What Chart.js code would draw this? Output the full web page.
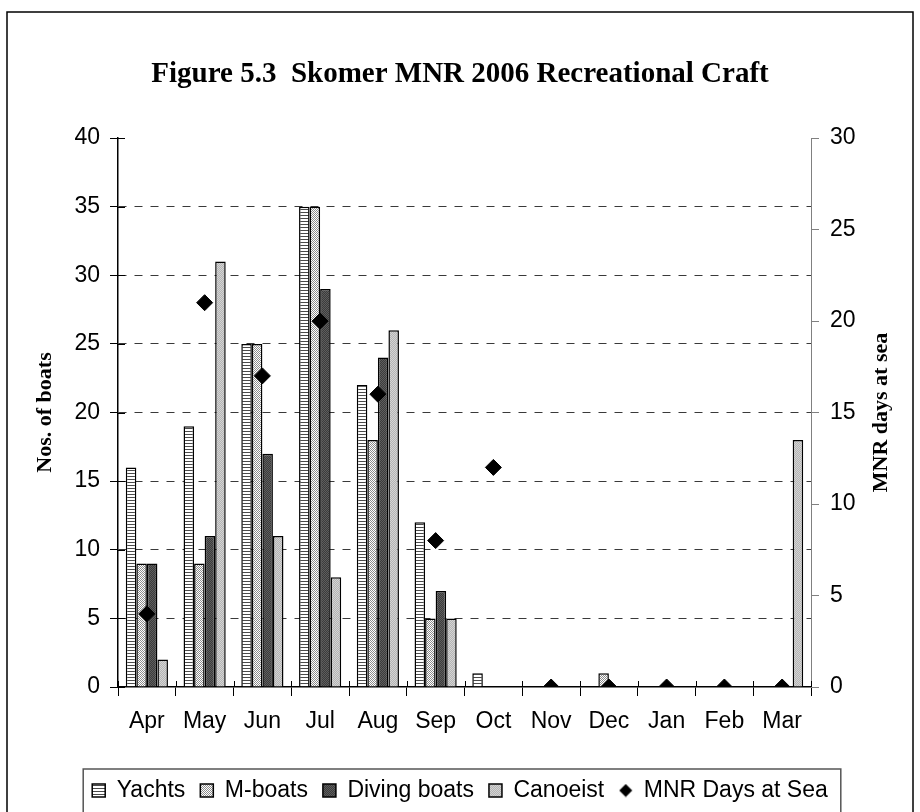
<!DOCTYPE html>
<html>
<head>
<meta charset="utf-8">
<script src="https://cdn.jsdelivr.net/npm/chart.js@4.4.0/dist/chart.umd.min.js"></script>
<style>
	html, body { margin: 0; padding: 0; background: #fff; }
</style>
</head>
<body>
<canvas id="chart_craft" width="920" height="812"></canvas>
<script>
// values
var months = ['Apr', 'May', 'Jun', 'Jul', 'Aug', 'Sep', 'Oct', 'Nov', 'Dec', 'Jan', 'Feb', 'Mar'];
var yachts = [16, 19, 25, 35, 22, 12, 1, 0, 0, 0, 0, 0];
var mBoats = [9, 9, 25, 35, 18, 5, 0, 0, 1, 0, 0, 0];
var divingBoats = [9, 11, 17, 29, 24, 7, 0, 0, 0, 0, 0, 0];
var canoeist = [2, 31, 11, 8, 26, 5, 0, 0, 0, 0, 0, 18];
var daysAtSea = [4, 21, 17, 20, 16, 8, 12, 0, 0, 0, 0, 0];

var tickFont = { family: '"Liberation Sans", Arial, sans-serif', size: 23 };

// little fill patterns like the old Excel ones
function makePattern(w, h, paint) {
	var c = document.createElement('canvas');
	c.width = w;
	c.height = h;
	var g = c.getContext('2d');
	paint(g);
	return g.createPattern(c, 'repeat');
}

function checker(a, b) {
	return makePattern(2, 2, function (g) {
		g.fillStyle = a;
		g.fillRect(0, 0, 2, 2);
		g.fillStyle = b;
		g.fillRect(0, 0, 1, 1);
		g.fillRect(1, 1, 1, 1);
	});
}

var fillYachts = makePattern(1, 3, function (g) {
	g.fillStyle = '#fff';
	g.fillRect(0, 0, 1, 3);
	g.fillStyle = '#4a4a4a';
	g.fillRect(0, 2, 1, 1);
});
var fillMBoats = checker('#ffffff', '#8c8c8c');
var fillDiving = checker('#3c3c3c', '#5e5e5e');
var fillCanoe = checker('#b4b4b4', '#d4d4d4');

// smaller diamond for the legend key
var legendDiamond = document.createElement('canvas');
legendDiamond.width = 14;
legendDiamond.height = 14;
(function () {
	var g = legendDiamond.getContext('2d');
	g.fillStyle = '#000';
	g.beginPath();
	g.moveTo(7, 0.5);
	g.lineTo(13.5, 7);
	g.lineTo(7, 13.5);
	g.lineTo(0.5, 7);
	g.closePath();
	g.fill();
})();

var craftFrame = {
	id: 'craftFrame',
	beforeDraw: function (chart) {
		var ctx = chart.ctx;
		ctx.save();
		ctx.fillStyle = '#fff';
		ctx.fillRect(0, 0, chart.width, chart.height);
		ctx.strokeStyle = '#000';
		ctx.lineWidth = 1.5;
		ctx.strokeRect(7, 12, 906, 830);
		ctx.restore();
	},
	afterDraw: function (chart) {
		var ctx = chart.ctx;
		var area = chart.chartArea;
		var xs = chart.scales.x;
		var ys = chart.scales.y;
		var mid = (area.top + area.bottom) / 2;
		ctx.save();

		// inner halves of the cross tick marks
		ctx.strokeStyle = '#000';
		ctx.lineWidth = 1;
		ctx.beginPath();
		ys.ticks.forEach(function (t) {
			var py = Math.round(ys.getPixelForValue(t.value)) + 0.5;
			ctx.moveTo(ys.right, py);
			ctx.lineTo(ys.right + 7, py);
		});
		var step = (xs.right - xs.left) / months.length;
		for (var i = 0; i <= months.length; i++) {
			var px = Math.round(xs.left + i * step) + 0.5;
			ctx.moveTo(px, xs.top);
			ctx.lineTo(px, xs.top - 6);
		}
		ctx.stroke();

		// axis titles, both reading upwards
		ctx.fillStyle = '#000';
		ctx.font = 'bold 22px "Liberation Serif", "Times New Roman", serif';
		ctx.textAlign = 'center';
		ctx.textBaseline = 'middle';
		ctx.save();
		ctx.translate(45, mid);
		ctx.rotate(-Math.PI / 2);
		ctx.fillText('Nos. of boats', 0, 0);
		ctx.restore();
		ctx.save();
		ctx.translate(881, mid);
		ctx.rotate(-Math.PI / 2);
		ctx.fillText('MNR days at sea', 0, 0);
		ctx.restore();

		// box round the legend
		var boxes = chart.legend.legendHitBoxes;
		if (boxes && boxes.length) {
			var first = boxes[0];
			var last = boxes[boxes.length - 1];
			var lx = first.left - 9;
			var rx = last.left + last.width + 13;
			ctx.strokeStyle = '#555';
			ctx.lineWidth = 1.5;
			ctx.strokeRect(lx, 769, rx - lx, 80);
		}
		ctx.restore();
	}
};

var chart_craft = new Chart(
	document.getElementById('chart_craft'),
	{
		type: 'bar',
		data: {
			labels: months,
			datasets: [
				{
					label: 'Yachts',
					data: yachts,
					backgroundColor: fillYachts,
					borderColor: '#000',
					borderWidth: 1.5,
					yAxisID: 'y',
					order: 1,
				},
				{
					label: 'M-boats',
					data: mBoats,
					backgroundColor: fillMBoats,
					borderColor: '#000',
					borderWidth: 1.5,
					yAxisID: 'y',
					order: 1,
				},
				{
					label: 'Diving boats',
					data: divingBoats,
					backgroundColor: fillDiving,
					borderColor: '#000',
					borderWidth: 1.5,
					yAxisID: 'y',
					order: 1,
				},
				{
					label: 'Canoeist',
					data: canoeist,
					backgroundColor: fillCanoe,
					borderColor: '#000',
					borderWidth: 1.5,
					yAxisID: 'y',
					order: 1,
				},
				{
					type: 'line',
					label: 'MNR Days at Sea',
					data: daysAtSea,
					yAxisID: 'y1',
					showLine: false,
					pointStyle: 'rectRot',
					pointRadius: 8,
					pointHoverRadius: 8,
					backgroundColor: '#000',
					borderColor: '#000',
					pointBackgroundColor: '#000',
					pointBorderColor: '#000',
					order: 0,
				}
			]
		},
		options: {
			responsive: false,
			animation: false,
			devicePixelRatio: 1,
			datasets: {
				bar: { categoryPercentage: 0.73, barPercentage: 1 }
			},
			layout: { padding: 0 },
			plugins: {
				title: {
					display: true,
					text: 'Figure 5.3  Skomer MNR 2006 Recreational Craft',
					color: '#000',
					font: { family: '"Liberation Serif", "Times New Roman", serif', weight: 'bold', size: 29, lineHeight: 1.2 },
					padding: { top: 57.6, bottom: 45.6 }
				},
				legend: {
					position: 'bottom',
					labels: {
						color: '#000',
						font: tickFont,
						usePointStyle: true,
						boxWidth: 13,
						boxHeight: 13,
						padding: 15,
						generateLabels: function (chart) {
							var items = Chart.defaults.plugins.legend.labels.generateLabels(chart);
							items.sort(function (a, b) { return a.datasetIndex - b.datasetIndex; });
							items.forEach(function (it) {
								it.pointStyle = it.datasetIndex === 4 ? legendDiamond : 'rect';
							});
							return items;
						}
					}
				},
				tooltip: { enabled: false }
			},
			scales: {
				x: {
					offset: true,
					grid: { display: true, drawOnChartArea: false, offset: true, tickLength: 9, color: '#000', tickColor: '#000' },
					border: { color: '#000', width: 1.5 },
					ticks: { color: '#000', font: tickFont, padding: 12, maxRotation: 0, autoSkip: false },
					afterFit: function (s) { s.height = 77; s.paddingLeft = 0; s.paddingRight = 0; }
				},
				y: {
					position: 'left',
					min: 0,
					max: 40,
					ticks: { stepSize: 5, color: '#000', font: tickFont, padding: 10 },
					grid: {
						color: function (c) {
							return c.tick && (c.tick.value === 40 || c.tick.value === 0) ? 'rgba(0,0,0,0)' : '#3a3a3a';
						},
						tickColor: '#000',
						tickLength: 8,
						lineWidth: 1
					},
					border: { color: '#000', width: 1.5, dash: [8, 8] },
					afterFit: function (s) { s.width = 118; s.paddingTop = 0; s.paddingBottom = 0; }
				},
				y1: {
					position: 'right',
					min: 0,
					max: 30,
					ticks: { stepSize: 5, color: '#000', font: tickFont, padding: 11 },
					grid: { drawOnChartArea: false, tickColor: '#808080', tickLength: 8 },
					border: { color: '#808080', width: 1 },
					afterFit: function (s) { s.width = 109; s.paddingTop = 0; s.paddingBottom = 0; }
				}
			}
		},
		plugins: [craftFrame]
	}
);
</script>
</body>
</html>
